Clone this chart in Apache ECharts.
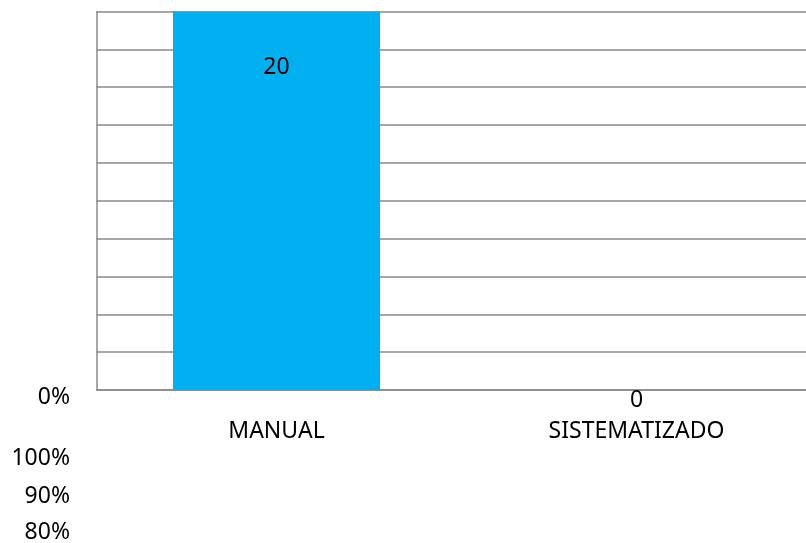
<!DOCTYPE html>
<html>
<head>
<meta charset="utf-8">
<script src="https://cdn.jsdelivr.net/npm/echarts@6/dist/echarts.min.js"></script>
<style>
  html, body { margin: 0; padding: 0; background: #ffffff; }
  #chart { width: 806px; height: 543px; }
</style>
</head>
<body>
<div id="chart"></div>
<script>
// Categories and counts
var categories = ['MANUAL', 'SISTEMATIZADO'];
var counts = [20, 0];
// Percentage tick labels listed at the lower left
var percentLabels = ['0%', '100%', '90%', '80%'];

var FONT = '"Noto Sans", "Open Sans", sans-serif';
var GRID_COLOR = '#8a8a8a';

var chart = echarts.init(document.getElementById('chart'), null, { renderer: 'canvas' });

// Vertical centres for the percentage labels
var pctY = [398, 459, 497, 533];

var option = {
  animation: false,
  backgroundColor: '#ffffff',
  grid: {
    left: 96.5,
    top: 11.5,
    width: 720,
    height: 378.5,
    containLabel: false,
    outerBoundsMode: 'none'
  },
  xAxis: {
    type: 'category',
    data: categories,
    axisLine: { show: true, lineStyle: { color: GRID_COLOR, width: 1.5 } },
    axisTick: { show: false },
    axisLabel: {
      margin: 30,
      color: '#000000',
      fontFamily: FONT,
      fontSize: 23
    },
    splitLine: { show: false }
  },
  yAxis: {
    type: 'value',
    min: 0,
    max: 20,
    interval: 2,
    axisLine: { show: true, lineStyle: { color: GRID_COLOR, width: 1.5 } },
    axisTick: { show: false },
    axisLabel: { show: false },
    splitLine: { show: true, lineStyle: { color: GRID_COLOR, width: 1.5 } }
  },
  series: [{
    type: 'bar',
    barWidth: 207,
    itemStyle: { color: '#00B0F0' },
    label: {
      show: true,
      color: '#000000',
      fontFamily: FONT,
      fontSize: 23
    },
    data: counts.map(function (v) {
      return v > 0
        ? { value: v, label: { position: 'insideTop', distance: 44 } }
        : { value: v, label: { position: 'bottom', distance: -1 } };
    })
  }],
  graphic: percentLabels.map(function (t, i) {
    return {
      type: 'text',
      right: 806 - 70,
      top: pctY[i] - 12,
      style: {
        text: t,
        fill: '#000000',
        font: '23px ' + FONT,
        textAlign: 'right'
      }
    };
  })
};

chart.setOption(option);
</script>
</body>
</html>
